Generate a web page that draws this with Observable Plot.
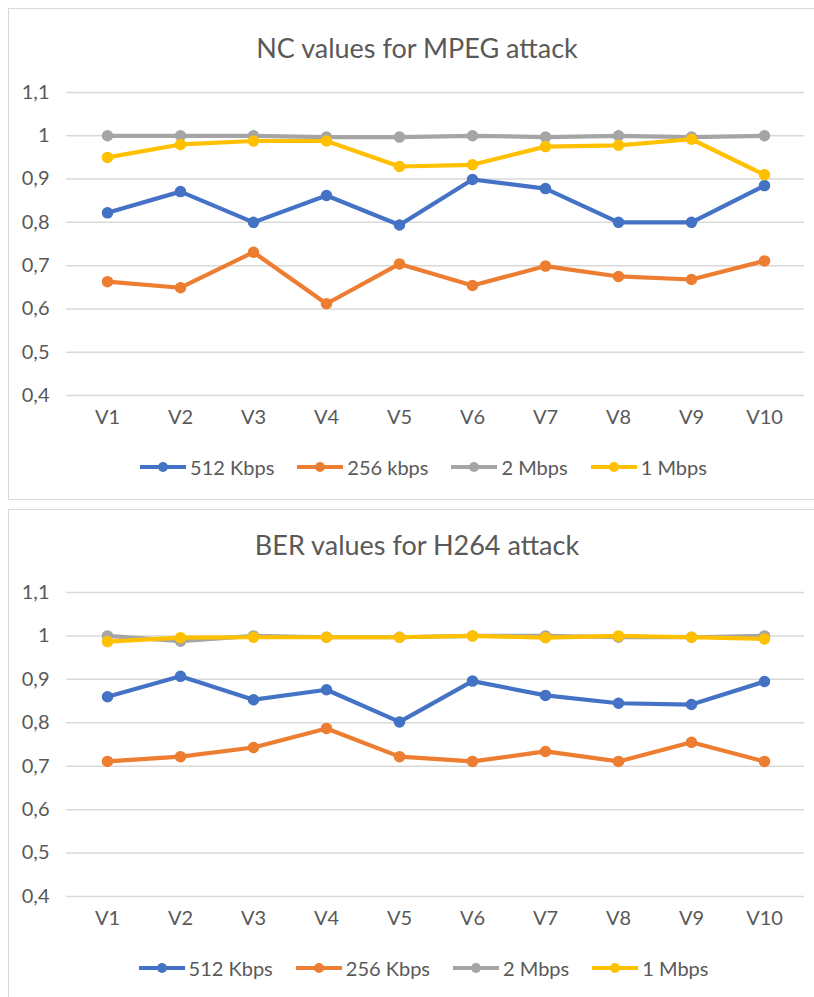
<!DOCTYPE html>
<html>
<head>
<meta charset="utf-8">
<script src="https://cdn.jsdelivr.net/npm/d3@7"></script>
<script src="https://cdn.jsdelivr.net/npm/@observablehq/plot@0.6"></script>
<style>
  html, body { margin:0; padding:0; background:#fff; width:814px; height:997px; overflow:hidden; font-family: Lato, "Noto Sans", sans-serif; color:#595959; }
  .box { position:absolute; left:8px; width:830px; border:1.5px solid #d9d9d9; box-sizing:border-box; }
  .title { position:absolute; left:8px; width:818px; text-align:center; font-size:27px; line-height:30px; color:#595959; white-space:nowrap; }
  .plot { position:absolute; left:0; }
  .legend { position:absolute; left:14px; width:818px; display:flex; justify-content:center; align-items:center; gap:22px; font-size:20px; line-height:24px; color:#595959; }
  .item { display:flex; align-items:center; }
  .item span { margin-left:3px; }
</style>
</head>
<body>
<div id="root"></div>
<script>
// ---- data ----
const categories = ["V1","V2","V3","V4","V5","V6","V7","V8","V9","V10"];
const yTicks = [0.4, 0.5, 0.6, 0.7, 0.8, 0.9, 1.0, 1.1];
const yTickLabels = ["0,4","0,5","0,6","0,7","0,8","0,9","1","1,1"];
const seriesColors = ["#4472C4", "#ED7D31", "#A5A5A5", "#FFC000"];

// Chart 1: NC values for MPEG attack
const nc_title = "NC values for MPEG attack";
const nc_names = ["512 Kbps", "256 kbps", "2 Mbps", "1 Mbps"];
const nc_512k = [0.822, 0.871, 0.800, 0.862, 0.794, 0.899, 0.878, 0.800, 0.800, 0.885];
const nc_256k = [0.663, 0.649, 0.731, 0.612, 0.704, 0.654, 0.699, 0.675, 0.668, 0.711];
const nc_2m   = [1.000, 1.000, 1.000, 0.997, 0.997, 1.000, 0.997, 1.000, 0.997, 1.000];
const nc_1m   = [0.950, 0.980, 0.988, 0.988, 0.929, 0.933, 0.975, 0.978, 0.992, 0.910];

// Chart 2: BER values for H264 attack
const ber_title = "BER values for H264 attack";
const ber_names = ["512 Kbps", "256 Kbps", "2 Mbps", "1 Mbps"];
const ber_512k = [0.860, 0.907, 0.853, 0.876, 0.802, 0.896, 0.863, 0.845, 0.842, 0.895];
const ber_256k = [0.711, 0.722, 0.743, 0.787, 0.722, 0.711, 0.734, 0.711, 0.755, 0.711];
const ber_2m   = [1.000, 0.988, 1.000, 0.997, 0.997, 1.000, 1.000, 0.997, 0.997, 1.000];
const ber_1m   = [0.987, 0.996, 0.997, 0.997, 0.997, 1.000, 0.996, 1.000, 0.997, 0.993];

const charts = [
  { title: nc_title, names: nc_names, values: [nc_512k, nc_256k, nc_2m, nc_1m],
    boxTop: 8, boxHeight: 492, titleY: 48, yTop: 92, yBottom: 395, legendY: 467 },
  { title: ber_title, names: ber_names, values: [ber_512k, ber_256k, ber_2m, ber_1m],
    boxTop: 509, boxHeight: 520, titleY: 545, yTop: 592, yBottom: 896, legendY: 968 }
];

const root = document.getElementById("root");

for (const c of charts) {
  const box = document.createElement("div");
  box.className = "box";
  box.style.top = c.boxTop + "px";
  box.style.height = c.boxHeight + "px";
  root.appendChild(box);

  const t = document.createElement("div");
  t.className = "title";
  t.style.top = (c.titleY - 15) + "px";
  t.textContent = c.title;
  root.appendChild(t);

  const rows = [];
  c.names.forEach((name, si) => {
    categories.forEach((cat, ci) => rows.push({ series: name, si, cat, value: c.values[si][ci] }));
  });

  const mt = 20, mb = 45;
  const H = (c.yBottom - c.yTop) + mt + mb;
  const marks = [
    Plot.ruleY(yTicks, { stroke: "#d9d9d9", strokeWidth: 1.5 }),
    Plot.axisY({ ticks: yTicks, tickFormat: d => yTickLabels[yTicks.indexOf(d)], tickSize: 0, tickPadding: 17, fontSize: 20, fill: "#595959", label: null }),
    Plot.axisX({ tickSize: 0, tickPadding: 14, fontSize: 20, fill: "#595959", label: null })
  ];
  c.names.forEach((name, si) => {
    const d = rows.filter(r => r.si === si);
    marks.push(Plot.line(d, { x: "cat", y: "value", stroke: seriesColors[si], strokeWidth: 4.2, strokeLinejoin: "round", strokeLinecap: "round" }));
    marks.push(Plot.dot(d, { x: "cat", y: "value", fill: seriesColors[si], stroke: seriesColors[si], r: 5 }));
  });

  const svg = Plot.plot({
    width: 814, height: H,
    marginLeft: 66, marginRight: 10, marginTop: mt, marginBottom: mb,
    x: { type: "point", domain: categories, padding: 0.5 },
    y: { domain: [0.4, 1.1] },
    style: { fontFamily: "Lato, 'Noto Sans', sans-serif", background: "transparent", overflow: "visible" },
    marks
  });
  svg.classList.add("plot");
  svg.style.position = "absolute";
  svg.style.top = (c.yTop - mt) + "px";
  svg.style.left = "0px";
  root.appendChild(svg);

  const lg = document.createElement("div");
  lg.className = "legend";
  lg.style.top = (c.legendY - 12) + "px";
  c.names.forEach((name, si) => {
    const it = document.createElement("div");
    it.className = "item";
    const col = seriesColors[si];
    it.innerHTML = `<svg width="48" height="14"><line x1="1" y1="7" x2="47" y2="7" stroke="${col}" stroke-width="4.2"/><circle cx="24" cy="7" r="5" fill="${col}"/></svg>`;
    const sp = document.createElement("span");
    sp.textContent = name;
    it.appendChild(sp);
    lg.appendChild(it);
  });
  root.appendChild(lg);
}
</script>
</body>
</html>
